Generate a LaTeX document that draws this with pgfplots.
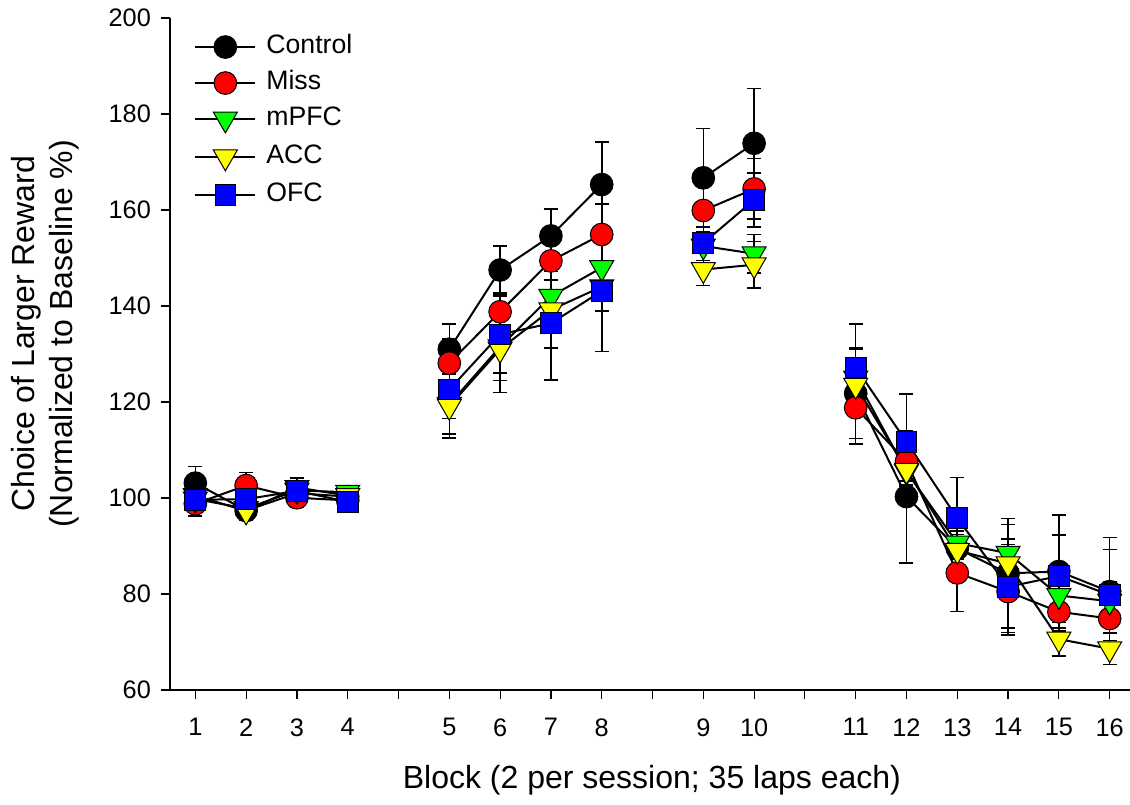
\documentclass[border=0pt]{standalone}
\usepackage{pgfplots}
\pgfplotsset{compat=1.18}
\usepackage{pgfplotstable}
\usepackage{fontspec}
\setmainfont{Liberation Sans}
\definecolor{cRed}{RGB}{255,0,0}
\definecolor{cGreen}{RGB}{0,255,0}
\definecolor{cYellow}{RGB}{255,255,0}
\definecolor{cBlue}{RGB}{0,0,255}

% x = plotting position (blocks with gaps), y = mean, e = SE
\pgfplotstableread{
x y e
1 103.1 3.5
2 97.4 2
3 101.0 2
4 100.3 1.5
5 nan 0
6 131.0 5.2
7 147.5 5.0
8 154.6 5.6
9 165.3 8.9
10 nan 0
11 166.7 10.3
12 173.9 11.4
13 nan 0
14 121.8 9.4
15 100.3 13.8
16 89.5 6
17 84.3 11.4
18 84.7 11.8
19 80.5 11.3
}\control
\pgfplotstableread{
x y e
1 98.8 2.5
2 102.6 2.7
3 100.06 2
4 99.5 2
5 nan 0
6 128.1 5
7 138.8 4
8 149.4 4
9 154.9 6.3
10 nan 0
11 159.9 7
12 164.4 6.3
13 nan 0
14 118.8 7.5
15 107.6 4
16 84.4 8
17 80.5 8.5
18 76.3 4
19 74.9 6
}\miss
\pgfplotstableread{
x y e
1 99.8 2.5
2 97.8 2
3 101.6 2
4 101.2 1
5 nan 0
6 119.5 6.2
7 131.5 7
8 142.0 6
9 148.0 5
10 nan 0
11 152.5 3
12 150.9 4
13 nan 0
14 125.0 6
15 105.5 3
16 90.6 5
17 88.5 6
18 79.7 4
19 78.5 4
}\mpfc
\pgfplotstableread{
x y e
1 100.5 2.5
2 97.3 2
3 102.2 2
4 100.5 1.5
5 nan 0
6 119.1 6.6
7 131.0 9
8 139.2 8
9 144.0 5
10 nan 0
11 147.6 3.3
12 148.6 4.8
13 nan 0
14 123.5 5
15 105.8 3
16 89.1 4
17 86.3 4
18 70.6 3.5
19 68.6 3.3
}\acc
\pgfplotstableread{
x y e
1 99.65 2
2 99.75 2
3 101.5 2.8
4 99.2 1.5
5 nan 0
6 122.6 6
7 134.1 8
8 136.4 11.8
9 143.1 12.6
10 nan 0
11 153.1 5
12 162.1 5.6
13 nan 0
14 127.2 9
15 111.7 10
16 95.8 8.5
17 81.5 10
18 83.75 8.5
19 79.8 9.5
}\ofc

\begin{document}
\begin{tikzpicture}
\begin{axis}[
  scale only axis,
  width=720pt, height=504pt,
  xmin=0.5, xmax=19.4,
  ymin=60, ymax=200,
  axis x line*=bottom, axis y line*=left,
  axis line style={line width=1pt, black},
  tick align=outside,
  major tick length=6.75pt,
  tick style={line width=0.9pt, black},
  xtick={1,...,19},
  xticklabels={1,2,3,4,,5,6,7,8,,9,10,,11,12,13,14,15,16},
  ytick={60,80,...,200},
  /pgf/number format/assume math mode=true,
  ticklabel style={font=\fontsize{19}{22}\selectfont},
  yticklabel style={xshift=-4pt},
  xticklabel style={yshift=-11pt},
  unbounded coords=jump,
  clip=false,
  xlabel={Block (2 per session; 35 laps each)},
  xlabel style={font=\fontsize{24}{29}\selectfont, at={(axis description cs:0.502,-0.134)}, anchor=center},
  ylabel={Choice of Larger Reward\\(Normalized to Baseline \%)},
  ylabel style={font=\fontsize{24}{29}\selectfont, align=center, at={(axis description cs:-0.13,0.53)}, anchor=center},
  every axis plot/.append style={line width=1.5pt, black},
  error bars/y dir=both,
  error bars/y explicit,
  error bars/error bar style={line width=1.2pt, black},
  error bars/error mark options={rotate=90, mark size=5.25pt, line width=1.2pt, black},
  legend image code/.code={\draw[mark repeat=2,mark phase=2,#1] plot coordinates {(0pt,0pt)(22.5pt,0pt)(45pt,0pt)};},
  legend style={at={(axis description cs:0.021,0.979)}, anchor=north west, draw=none, fill=none,
    font=\fontsize{20}{23}\selectfont, row sep=9pt, column sep=0pt,
    nodes={inner ysep=0pt, inner xsep=2pt, text height=14pt, text depth=4pt}},
  legend cell align=left,
]
\addplot[mark=*, mark size=8.5pt, mark options={fill=black, draw=black, line width=0.75pt}]
  table[x=x, y=y, y error=e] {\control};
\addlegendentry{\hspace{5.5pt}Control}
\addplot[mark=*, mark size=8.5pt, mark options={fill=cRed, draw=black, line width=0.75pt}]
  table[x=x, y=y, y error=e] {\miss};
\addlegendentry{\hspace{5.5pt}Miss}
\addplot[mark=triangle*, mark size=10.4pt, mark options={fill=cGreen, draw=black, line width=0.75pt, rotate=180}]
  table[x=x, y=y, y error=e] {\mpfc};
\addlegendentry{\hspace{5.5pt}mPFC}
\addplot[mark=triangle*, mark size=10.4pt, mark options={fill=cYellow, draw=black, line width=0.75pt, rotate=180}]
  table[x=x, y=y, y error=e] {\acc};
\addlegendentry{\hspace{5.5pt}ACC}
\addplot[mark=square*, mark size=7.75pt, mark options={fill=cBlue, draw=black, line width=0.75pt}]
  table[x=x, y=y, y error=e] {\ofc};
\addlegendentry{\hspace{5.5pt}OFC}
\coordinate (bbsw) at (rel axis cs:-0.177,-0.171);
\coordinate (bbne) at (rel axis cs:1,1.0268);
\end{axis}
\pgfresetboundingbox
\useasboundingbox (bbsw) rectangle (bbne);
\end{tikzpicture}
\end{document}
